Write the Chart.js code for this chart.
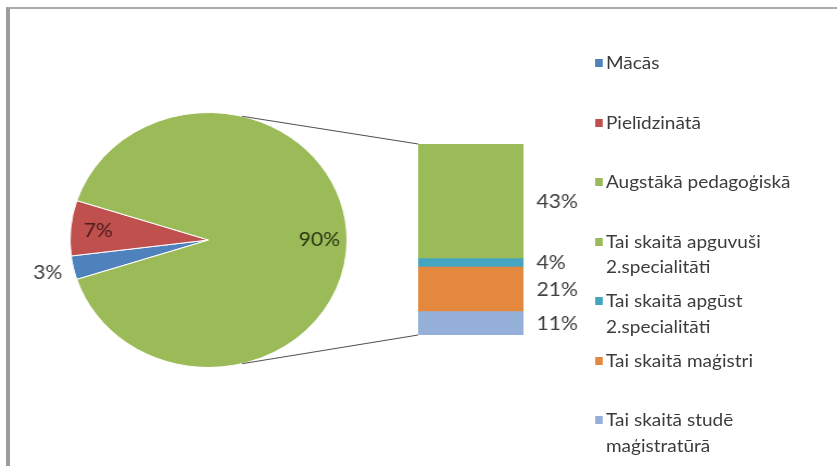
<!DOCTYPE html>
<html lang="lv">
<head>
<meta charset="utf-8">
<title>Pedagogu izglītība</title>
<script src="https://cdn.jsdelivr.net/npm/chart.js@4.4.0/dist/chart.umd.min.js"></script>
<style>
  html, body { margin: 0; padding: 0; background: #fff; }
  body { width: 837px; height: 466px; overflow: hidden; position: relative; font-family: Lato, 'Noto Sans', sans-serif; }
  .frame { position: absolute; left: 6px; top: 7px; width: 900px; height: 500px; border-left: 4px solid #9c9c9c; border-top: 2px solid #ababab; }
  /* the original picture is a little wider than tall, so the whole stage is stretched */
  .stage { position: absolute; left: 0; top: 0; width: 771px; height: 466px; transform: scaleX(1.086); transform-origin: 0 0; }
  .pie-box { position: absolute; left: 0; top: 80px; width: 400px; height: 320px; }
  .bar-box { position: absolute; left: 380px; top: 130px; width: 170px; height: 220px; }
  .legend { position: absolute; left: 548px; top: 0; }
  .legend-item { position: absolute; left: 0; width: 215px; color: #3c3c3c; font-size: 17.5px; line-height: 25.5px; }
  .legend-item .box { position: absolute; left: 0; top: 9px; width: 6.5px; height: 8px; }
  .legend-item .txt { margin-left: 10px; width: 205px; }
</style>
</head>
<body>
<div class="frame"></div>
<div class="stage">
  <div class="pie-box"><canvas id="pieChart"></canvas></div>
  <div class="bar-box"><canvas id="barChart"></canvas></div>
  <div class="legend" id="legend"></div>
</div>
<script>
// Pīrāga daļa
const pieLabels = ['Mācās', 'Pielīdzinātā', 'Augstākā pedagoģiskā'];
const pieValues = [3, 7, 90];
const pieColors = ['#4f81bd', '#c0504d', '#9bbb59'];
const pieTextColors = ['#404040', '#4a1c1c', '#2b3614'];

// Stabiņa daļa (no augšas uz leju), segmentu augstumi nolasīti no attēla
const barLabels = ['Tai skaitā apguvuši 2.specialitāti', 'Tai skaitā apgūst 2.specialitāti', 'Tai skaitā maģistri', 'Tai skaitā studē maģistratūrā'];
const barValues = [54, 4, 21, 11];
const barValueLabels = ['43%', '4%', '21%', '11%'];
const barColors = ['#9bbb59', '#45a5bf', '#e4883e', '#95b0d8'];

const labelFont = '19.5px Lato, "Noto Sans", sans-serif';

// Stabiņš – uzkrātie segmenti, apakšējais ir pirmais
const barDatasets = barValues.map((v, i) => ({
    label: barLabels[i],
    data: [v],
    backgroundColor: barColors[i],
    borderWidth: 0,
    categoryPercentage: 1,
    barPercentage: 1,
    valueLabel: barValueLabels[i]
})).reverse();

const barValueLabelPlugin = {
    id: 'barValueLabels',
    afterDatasetsDraw(chart) {
        const ctx = chart.ctx;
        ctx.save();
        ctx.font = labelFont;
        ctx.fillStyle = '#404040';
        ctx.textAlign = 'left';
        ctx.textBaseline = 'middle';
        chart.data.datasets.forEach((ds, i) => {
            const bar = chart.getDatasetMeta(i).data[0];
            const right = bar.x + bar.width / 2;
            ctx.fillText(ds.valueLabel, right + 12, (bar.y + bar.base) / 2);
        });
        ctx.restore();
    }
};

const barChart = new Chart(document.getElementById('barChart'), {
    type: 'bar',
    data: { labels: [''], datasets: barDatasets },
    options: {
        responsive: true,
        maintainAspectRatio: false,
        animation: false,
        events: [],
        devicePixelRatio: 1,
        layout: { padding: { left: 5, right: 68, top: 14, bottom: 15 } },
        scales: {
            x: { stacked: true, display: false },
            y: { stacked: true, display: false, min: 0, max: barValues.reduce((a, b) => a + b, 0) }
        },
        plugins: { legend: { display: false }, tooltip: { enabled: false } }
    },
    plugins: [barValueLabelPlugin]
});

// Procentu uzraksti uz pīrāga
const pieLabelPlugin = {
    id: 'pieLabels',
    afterDatasetsDraw(chart) {
        const ctx = chart.ctx;
        const arcs = chart.getDatasetMeta(0).data;
        ctx.save();
        ctx.font = labelFont;
        ctx.textAlign = 'center';
        ctx.textBaseline = 'middle';
        arcs.forEach((arc, i) => {
            const mid = (arc.startAngle + arc.endAngle) / 2;
            const f = pieValues[i] < 5 ? 1.19 : 0.8;
            const x = arc.x + Math.cos(mid) * arc.outerRadius * f;
            const y = arc.y + Math.sin(mid) * arc.outerRadius * f;
            ctx.fillStyle = pieTextColors[i];
            ctx.fillText(pieValues[i] + '%', x, y);
        });
        ctx.restore();
    }
};

// Savienojošās līnijas no pīrāga uz stabiņu
const connectorPlugin = {
    id: 'connectors',
    afterDraw(chart) {
        const arc = chart.getDatasetMeta(0).data[0];
        const pieBox = chart.canvas.parentNode;
        const barBox = barChart.canvas.parentNode;
        const dx = barBox.offsetLeft - pieBox.offsetLeft;
        const dy = barBox.offsetTop - pieBox.offsetTop;
        const n = barChart.data.datasets.length;
        const topBar = barChart.getDatasetMeta(n - 1).data[0];
        const bottomBar = barChart.getDatasetMeta(0).data[0];
        const left = topBar.x - topBar.width / 2 + dx;
        const a = 14 * Math.PI / 180;
        const r = arc.outerRadius;
        const ctx = chart.ctx;
        ctx.save();
        ctx.strokeStyle = '#4d4d4d';
        ctx.lineWidth = 1;
        ctx.beginPath();
        ctx.moveTo(arc.x + r * Math.sin(a), arc.y - r * Math.cos(a));
        ctx.lineTo(left, topBar.y + dy);
        ctx.moveTo(arc.x + r * Math.sin(a), arc.y + r * Math.cos(a));
        ctx.lineTo(left, bottomBar.base + dy);
        ctx.stroke();
        ctx.restore();
    }
};

new Chart(document.getElementById('pieChart'), {
    type: 'pie',
    data: {
        labels: pieLabels,
        datasets: [{
            data: pieValues,
            backgroundColor: pieColors,
            borderColor: '#ffffff',
            borderWidth: 1,
            hoverBorderWidth: 1,
            hoverOffset: 0
        }]
    },
    options: {
        responsive: true,
        maintainAspectRatio: false,
        animation: false,
        events: [],
        devicePixelRatio: 1,
        rotation: 252,
        layout: { padding: { left: 64, right: 80, top: 32, bottom: 32 } },
        plugins: { legend: { display: false }, tooltip: { enabled: false } }
    },
    plugins: [pieLabelPlugin, connectorPlugin]
});

// Leģenda: pīrāga un stabiņa kategorijas kopā
const legendEl = document.getElementById('legend');
const allLabels = pieLabels.concat(barLabels);
const allColors = pieColors.concat(barColors);
allLabels.forEach((txt, i) => {
    const item = document.createElement('div');
    item.className = 'legend-item';
    item.style.top = (63 + 59.5 * i - 12.75) + 'px';
    item.innerHTML = '<span class="box" style="background:' + allColors[i] + '"></span><div class="txt">' + txt + '</div>';
    legendEl.appendChild(item);
});
</script>
</body>
</html>
